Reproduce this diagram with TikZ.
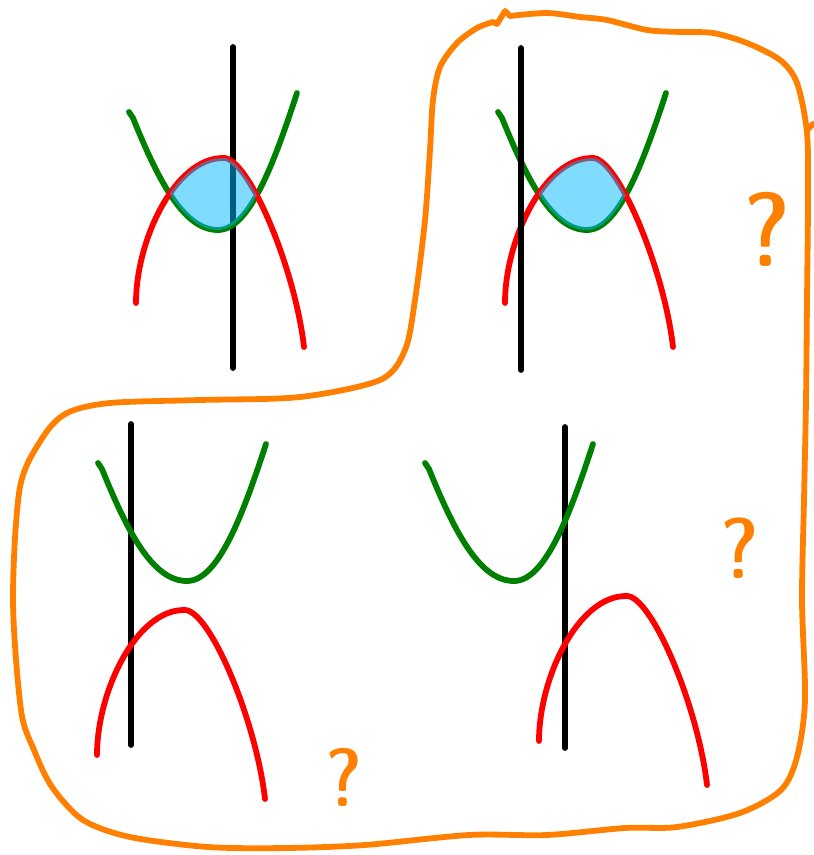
\documentclass[tikz,border=0pt]{standalone}
\usepackage{xcolor}
\usetikzlibrary{calc}

\definecolor{fenceorange}{RGB}{255,128,0}
\definecolor{upgreen}{RGB}{0,128,0}
\definecolor{lensblue}{RGB}{0,185,255}

\newcommand{\greencurve}{(129,112) -- (133,118) .. controls (160,185) and (185,230) .. (218,230) .. controls (250,230) and (275,160) .. (297,93)}
\newcommand{\redcurve}{(136,303) .. controls (136,240) and (175,158) .. (223,158) .. controls (248,156) and (295,268) .. (304,347)}

\tikzset{
  vline/.style={line width=3.3pt, black, line cap=round},
  upline/.style={line width=3.3pt, upgreen, line cap=round, line join=round},
  downline/.style={line width=3.3pt, red, line cap=round},
  lens/.style={fill=lensblue, fill opacity=0.5},
  fence/.style={line width=3.3pt, fenceorange, line cap=round, line join=round},
  qmark/.style={text=fenceorange, inner sep=0pt, font=\sffamily\fontseries{sbc}\selectfont}
}

\begin{document}
\begin{tikzpicture}[x=0.02cm, y=-0.02cm]
\useasboundingbox (0,0) rectangle (814,855);

% top left: the two curves overlap
\draw[vline] (233,47) -- (233,368);
\draw[upline] \greencurve;
\draw[downline] \redcurve;
\begin{scope}
  \clip \redcurve -- cycle;
  \fill[lens] \greencurve -- cycle;
\end{scope}

% top right: same curves, line moved left
\begin{scope}[shift={(369,0)}]
  \draw[upline] \greencurve;
  \draw[downline] \redcurve;
  \begin{scope}
    \clip \redcurve -- cycle;
    \fill[lens] \greencurve -- cycle;
  \end{scope}
\end{scope}
\draw[vline] (521,48) -- (521,370);

% bottom left: curves apart
\draw[vline] (131,424) -- (131,745);
\draw[upline, shift={(-31,351)}] \greencurve;
\draw[downline, shift={(-39,452)}] \redcurve;

% bottom right
\draw[vline] (565,427) -- (565,748);
\draw[upline, shift={(296,351)}] \greencurve;
\draw[downline, shift={(403,438)}] \redcurve;

% orange outline round three of the cases
\draw[fence] plot[smooth] coordinates {(510,16) (547,13) (580,17) (607,20) (647,30) (680,32) (713,33) (747,43) (780,60) (797,83) (807,133) (808,200) (807,300) (806,400) (804,500) (802,600) (805,700) (797,757) (781,790) (740,813) (677,827) (625,828) (547,835) (469,835) (365,845) (286,848) (208,847) (130,837) (83,820) (52,787) (34,750) (21,710) (13,600) (20,487) (43,437) (67,413) (110,403) (200,400) (300,397) (380,380) (405,350) (415,300) (425,220) (430,150) (433,100) (440,67) (457,43) (477,28) (493,22)}
  -- (497,24) -- (505,11) -- (510,16);
\draw[fence] (807,130) -- (813,124);

\node[qmark] (q1) at (767,229) {\fontsize{60}{60}\selectfont ?};
\node[qmark] (q2) at (740,548) {\fontsize{49}{49}\selectfont ?};
\node[qmark] (q3) at (344,777) {\fontsize{47}{47}\selectfont ?};
\end{tikzpicture}
\end{document}
